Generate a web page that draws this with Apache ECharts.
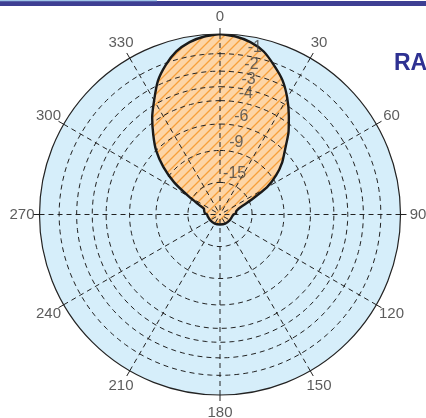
<!DOCTYPE html>
<html>
<head>
<meta charset="utf-8">
<title>Radiation pattern</title>
<script src="https://cdn.jsdelivr.net/npm/echarts@6/dist/echarts.min.js"></script>
<style>
  html, body { margin: 0; padding: 0; background: #fff; }
  #chart { width: 426px; height: 418px; }
</style>
</head>
<body>
<div id="chart"></div>
<script>
// pattern: angle (deg, clockwise from top) and relative field level (1 = 0 dB)
const patternAngle = [0, 5, 10, 15, 20, 25, 30, 35, 40, 45, 50, 55, 60, 65, 70, 75, 80, 85, 90,
  100, 120, 150, 180, 210, 240, 260, 270, 276, 283, 290, 295, 300, 305, 310, 315, 320, 325,
  330, 335, 340, 345, 350, 355, 360]
const patternLevel = [1.0, 0.99, 0.97, 0.935, 0.878, 0.82, 0.745, 0.665, 0.59, 0.51, 0.45, 0.38, 0.30, 0.19, 0.125, 0.10, 0.09, 0.09, 0.075,
  0.068, 0.063, 0.058, 0.055, 0.058, 0.063, 0.068, 0.072, 0.085, 0.09, 0.095, 0.13, 0.20, 0.31, 0.41, 0.50, 0.575, 0.655,
  0.73, 0.815, 0.88, 0.935, 0.97, 0.99, 1.0]

// dB rings
const ringDb = [-1, -2, -3, -4, -6, -9, -15]
const angleTicks = [0, 30, 60, 90, 120, 150, 180, 210, 240, 270, 300, 330]

const CENTER = [220, 214.5]
const RADIUS = 180.5
const LABEL_R = 1.097 // angle labels sit just outside the rim

function dbToLevel(db) {
  return Math.pow(10, db / 20)
}

function hatchTile() {
  const c = document.createElement('canvas')
  c.width = 10
  c.height = 10
  const ctx = c.getContext('2d')
  ctx.fillStyle = '#fdd5a6'
  ctx.fillRect(0, 0, 10, 10)
  ctx.strokeStyle = '#f7a03c'
  ctx.lineWidth = 1.3
  ctx.beginPath()
  ctx.moveTo(-1, 11); ctx.lineTo(11, -1)
  ctx.moveTo(-1, 1); ctx.lineTo(1, -1)
  ctx.moveTo(9, 11); ctx.lineTo(11, 9)
  ctx.stroke()
  return c
}

const patternData = patternAngle.map((a, i) => [patternLevel[i], a])

const ringAngles = []
for (let a = 0; a <= 360; a += 3) ringAngles.push(a)

const ringSeries = ringDb.map(db => ({
  type: 'line',
  coordinateSystem: 'polar',
  silent: true,
  showSymbol: false,
  z: 4,
  lineStyle: { color: '#222', width: 1, type: [5, 4] },
  data: ringAngles.map(a => [dbToLevel(db), a])
}))

const chart = echarts.init(document.getElementById('chart'))
chart.setOption({
  animation: false,
  polar: { center: CENTER, radius: RADIUS },
  angleAxis: {
    type: 'value',
    min: 0,
    max: 360,
    interval: 30,
    startAngle: 90,
    clockwise: true,
    z: 4,
    axisLine: { lineStyle: { color: '#222', width: 1.2 } },
    axisTick: { show: true, inside: false, length: 6, lineStyle: { color: '#222', width: 1 } },
    axisLabel: { show: false },
    splitLine: { show: true, lineStyle: { color: '#222', width: 1, type: [5, 4] } },
    splitArea: { show: false }
  },
  radiusAxis: {
    type: 'value',
    min: 0,
    max: 1,
    axisLine: { show: false },
    axisTick: { show: false },
    axisLabel: { show: false },
    splitLine: { show: false }
  },
  series: [
    {
      // light blue disc
      type: 'line',
      coordinateSystem: 'polar',
      silent: true,
      showSymbol: false,
      z: 1,
      lineStyle: { width: 0 },
      areaStyle: { color: '#d6eefa', opacity: 1 },
      data: ringAngles.map(a => [1, a])
    },
    {
      type: 'line',
      coordinateSystem: 'polar',
      silent: true,
      showSymbol: false,
      smooth: 0.2,
      z: 2,
      lineStyle: { width: 0 },
      areaStyle: { color: { image: hatchTile(), repeat: 'repeat' }, opacity: 1 },
      data: patternData
    },
    ...ringSeries,
    {
      type: 'line',
      coordinateSystem: 'polar',
      silent: true,
      showSymbol: false,
      smooth: 0.2,
      z: 6,
      lineStyle: { color: '#1a1a1a', width: 2.4 },
      data: patternData
    },
    {
      // dB ring labels
      type: 'scatter',
      coordinateSystem: 'polar',
      silent: true,
      symbolSize: 0,
      z: 7,
      label: {
        show: true,
        position: 'right',
        distance: 0,
        offset: [-3, -9],
        color: '#444',
        fontSize: 16,
        fontFamily: "'Liberation Sans Narrow', 'Liberation Sans'",
        formatter: p => String(p.data.name)
      },
      data: ringDb.map(db => ({ name: db, value: [dbToLevel(db), 11] }))
    },
    {
      // angle labels
      type: 'scatter',
      coordinateSystem: 'polar',
      silent: true,
      clip: false,
      symbolSize: 0,
      z: 7,
      label: {
        show: true,
        position: 'inside',
        color: '#333',
        fontSize: 15,
        fontFamily: 'Liberation Sans',
        formatter: p => String(p.data.name)
      },
      data: angleTicks.map(a => ({ name: a, value: [LABEL_R, a] }))
    }
  ],
  graphic: [
    { type: 'rect', left: 0, top: 1, shape: { width: 426, height: 5 }, style: { fill: '#3e3f93' } },
    { type: 'rect', left: 0, top: 0, shape: { width: 157, height: 1.3 }, style: { fill: '#9fc5e8' } },
    {
      type: 'text',
      left: 394,
      top: 52,
      style: { text: 'RA', fill: '#2e3192', font: 'bold 23px "Liberation Sans"' }
    }
  ]
})
</script>
</body>
</html>
